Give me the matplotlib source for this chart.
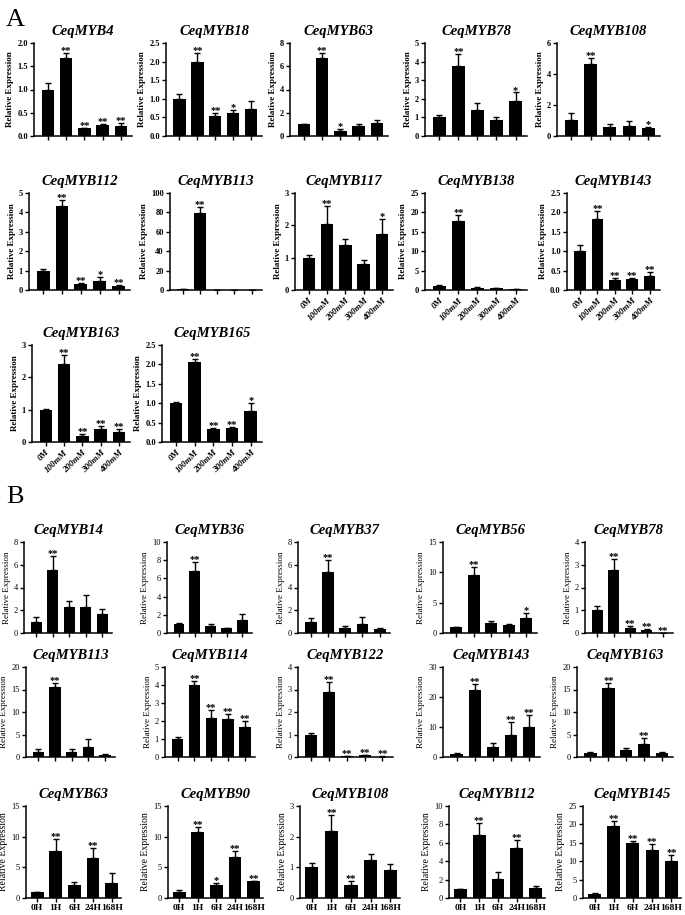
import numpy as np
import matplotlib.pyplot as plt

plt.rcParams['font.family'] = ['Liberation Serif', 'DejaVu Serif']

W, H = 685, 915

conc_labels = ['0M', '100mM', '200mM', '300mM', '400mM']
time_labels = ['0H', '1H', '6H', '24H', '168H']

# ---- panel A: salt treatment ----
a_genes = ['CeqMYB4', 'CeqMYB18', 'CeqMYB63', 'CeqMYB78', 'CeqMYB108',
           'CeqMYB112', 'CeqMYB113', 'CeqMYB117', 'CeqMYB138', 'CeqMYB143',
           'CeqMYB163', 'CeqMYB165']
a_means = [
    [1.0, 1.67, 0.17, 0.24, 0.21],
    [1.0, 1.98, 0.54, 0.61, 0.73],
    [1.0, 6.7, 0.47, 0.88, 1.1],
    [1.0, 3.75, 1.42, 0.88, 1.87],
    [1.05, 4.67, 0.55, 0.65, 0.5],
    [1.0, 4.35, 0.3, 0.45, 0.2],
    [1.0, 79.0, 0.1, 0.3, 0.1],
    [1.0, 2.03, 1.39, 0.79, 1.73],
    [1.0, 17.8, 0.5, 0.45, 0.2],
    [1.0, 1.82, 0.27, 0.28, 0.37],
    [1.0, 2.4, 0.18, 0.4, 0.31],
    [1.0, 2.05, 0.33, 0.37, 0.8],
]
a_errs = [
    [0.15, 0.12, 0.01, 0.02, 0.07],
    [0.12, 0.25, 0.09, 0.1, 0.2],
    [0.05, 0.45, 0.11, 0.19, 0.27],
    [0.13, 0.68, 0.35, 0.15, 0.47],
    [0.42, 0.35, 0.2, 0.3, 0.1],
    [0.1, 0.3, 0.08, 0.23, 0.04],
    [0.3, 7.0, 0.05, 0.2, 0.05],
    [0.07, 0.57, 0.19, 0.13, 0.47],
    [0.2, 1.5, 0.2, 0.1, 0.05],
    [0.15, 0.22, 0.03, 0.03, 0.1],
    [0.02, 0.28, 0.08, 0.1, 0.08],
    [0.02, 0.08, 0.02, 0.01, 0.2],
]
a_sig = [
    ['', '**', '**', '**', '**'],
    ['', '**', '**', '*', ''],
    ['', '**', '*', '', ''],
    ['', '**', '', '', '*'],
    ['', '**', '', '', '*'],
    ['', '**', '**', '*', '**'],
    ['', '**', '', '', ''],
    ['', '**', '', '', '*'],
    ['', '**', '', '', ''],
    ['', '**', '**', '**', '**'],
    ['', '**', '**', '**', '**'],
    ['', '**', '**', '**', '*'],
]
a_ymax = [2, 2.5, 8, 5, 6, 5, 100, 3, 25, 2.5, 3, 2.5]
a_ystep = [0.5, 0.5, 2, 1, 2, 1, 20, 1, 5, 0.5, 1, 0.5]

# ---- panel B: time course ----
b_genes = ['CeqMYB14', 'CeqMYB36', 'CeqMYB37', 'CeqMYB56', 'CeqMYB78',
           'CeqMYB113', 'CeqMYB114', 'CeqMYB122', 'CeqMYB143', 'CeqMYB163',
           'CeqMYB63', 'CeqMYB90', 'CeqMYB108', 'CeqMYB112', 'CeqMYB145']
b_means = [
    [1.0, 5.5, 2.3, 2.3, 1.7],
    [1.0, 6.85, 0.75, 0.5, 1.4],
    [1.0, 5.35, 0.47, 0.76, 0.35],
    [1.0, 9.5, 1.7, 1.35, 2.55],
    [1.0, 2.77, 0.22, 0.15, 0.01],
    [1.1, 15.5, 1.2, 2.2, 0.55],
    [1.0, 4.0, 2.17, 2.1, 1.65],
    [1.0, 2.9, 0.05, 0.1, 0.02],
    [1.0, 22.3, 3.4, 7.3, 10.0],
    [1.0, 15.4, 1.45, 3.0, 0.9],
    [1.0, 7.6, 2.2, 6.45, 2.45],
    [1.0, 10.8, 2.1, 6.7, 2.7],
    [1.0, 2.2, 0.42, 1.24, 0.9],
    [1.0, 6.8, 2.1, 5.4, 1.05],
    [1.0, 19.5, 14.9, 13.1, 10.1],
]
b_errs = [
    [0.45, 1.3, 0.55, 1.05, 0.45],
    [0.15, 1.0, 0.2, 0.1, 0.65],
    [0.28, 1.1, 0.15, 0.64, 0.12],
    [0.05, 1.35, 0.2, 0.2, 0.75],
    [0.2, 0.5, 0.1, 0.04, 0.01],
    [0.6, 0.9, 0.6, 1.8, 0.15],
    [0.1, 0.22, 0.45, 0.28, 0.37],
    [0.05, 0.45, 0.01, 0.01, 0.01],
    [0.4, 2.2, 1.4, 4.3, 3.9],
    [0.2, 1.0, 0.6, 1.3, 0.3],
    [0.05, 2.0, 0.35, 1.7, 1.55],
    [0.25, 0.8, 0.4, 0.95, 0.1],
    [0.14, 0.5, 0.13, 0.18, 0.2],
    [0.03, 1.35, 0.75, 0.95, 0.25],
    [0.25, 1.5, 0.5, 1.7, 1.5],
]
b_sig = [
    ['', '**', '', '', ''],
    ['', '**', '', '', ''],
    ['', '**', '', '', ''],
    ['', '**', '', '', '*'],
    ['', '**', '**', '**', '**'],
    ['', '**', '', '', ''],
    ['', '**', '**', '**', '**'],
    ['', '**', '**', '**', '**'],
    ['', '**', '', '**', '**'],
    ['', '**', '', '**', ''],
    ['', '**', '', '**', ''],
    ['', '**', '*', '**', '**'],
    ['', '**', '**', '', ''],
    ['', '**', '', '**', ''],
    ['', '**', '**', '**', '**'],
]
b_ymax = [8, 10, 8, 15, 4, 20, 5, 4, 30, 20, 15, 15, 3, 10, 25]
b_ystep = [2, 2, 2, 5, 1, 5, 1, 1, 10, 5, 5, 5, 1, 2, 5]

# axes boxes in pixels: (left, top, right, bottom)
a_boxes = [(34, 43, 132, 136), (166, 43, 262, 136), (290, 43, 388, 136),
           (425, 43, 527, 136), (557, 43, 660, 136),
           (29, 193, 130, 290), (170, 193, 262, 290), (295, 193, 393, 290),
           (425, 193, 527, 290), (567, 193, 660, 290),
           (32, 345, 130, 442), (162, 345, 262, 442)]
b_boxes = [(24, 542, 112, 633), (167, 542, 252, 633), (298, 542, 390, 633),
           (443, 542, 537, 633), (585, 542, 673, 633),
           (26, 667, 115, 757), (165, 667, 255, 757), (298, 667, 393, 757),
           (443, 667, 540, 757), (577, 667, 673, 757),
           (26, 806, 121, 898), (168, 806, 263, 898), (300, 806, 400, 898),
           (449, 806, 545, 898), (583, 806, 681, 898)]

fig = plt.figure(figsize=(W / 100, H / 100), dpi=100)


def px_axes(box):
    l, t, r, b = box
    return fig.add_axes([l / W, 1 - b / H, (r - l) / W, (b - t) / H])


def draw(ax, means, errs, sig, ymax, ystep, title, weight, xlabels=None,
         xrot=False, ylab_size=6.5):
    x = np.arange(len(means))
    ax.bar(x, means, width=0.68, color='black', zorder=2)
    ax.errorbar(x, means, yerr=[np.zeros(len(errs)), errs], fmt='none',
                ecolor='black', elinewidth=1, capsize=2.3, capthick=1, zorder=3)
    for xi, m, e, s in zip(x, means, errs, sig):
        if s:
            ax.annotate(s, (xi, m + e), xytext=(0, -1.5), textcoords='offset points',
                        ha='center', va='bottom', fontsize=7.5, fontweight='bold')
    ax.set_xlim(-0.75, 4.6)
    ax.set_ylim(0, ymax)
    ticks = np.arange(0, ymax + ystep / 2, ystep)
    ax.set_yticks(ticks)
    fmt = '%.1f' if ystep < 1 else '%d'
    ax.set_yticklabels([fmt % t for t in ticks], fontsize=6, fontweight=weight)
    ax.set_xticks(x)
    if xlabels is None:
        ax.set_xticklabels([])
    elif xrot:
        ax.set_xticklabels(xlabels, rotation=45, ha='right', rotation_mode='anchor',
                           fontsize=6.5, fontweight='bold', style='italic')
    else:
        ax.set_xlim(-0.6, 4.5)
        ax.set_xticklabels(xlabels, fontsize=6.8, fontweight='bold')
    for sp in ['top', 'right']:
        ax.spines[sp].set_visible(False)
    for sp in ['left', 'bottom']:
        ax.spines[sp].set_linewidth(1.1)
    ax.tick_params(direction='out', length=3, width=1, pad=1.5)
    ax.set_ylabel('Relative Expression', fontsize=ylab_size, fontweight=weight, labelpad=2)
    ax.set_title(title, fontsize=10.5, fontweight='bold', style='italic', pad=6)


for i, box in enumerate(a_boxes):
    ax = px_axes(box)
    labs = conc_labels if i >= 7 else None
    draw(ax, a_means[i], a_errs[i], a_sig[i], a_ymax[i], a_ystep[i], a_genes[i],
         'bold', labs, xrot=True)

for i, box in enumerate(b_boxes):
    ax = px_axes(box)
    labs = time_labels if i >= 10 else None
    draw(ax, b_means[i], b_errs[i], b_sig[i], b_ymax[i], b_ystep[i], b_genes[i],
         'normal', labs, ylab_size=7 if i >= 10 else 6.5)

fig.text(6 / W, 1 - 20 / H, 'A', fontsize=19, va='center', ha='left')
fig.text(6 / W, 1 - 497 / H, 'B', fontsize=19, va='center', ha='left')

fig.savefig('out.png', dpi=100)
